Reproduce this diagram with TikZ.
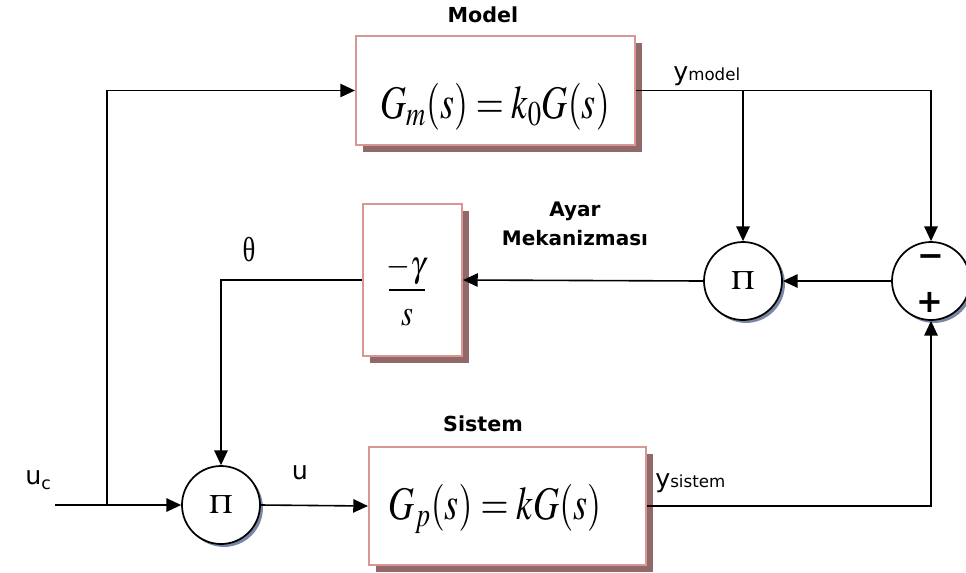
\documentclass[tikz,border=0pt]{standalone}
\usepackage{mathptmx}
\usepackage{fontspec}
\setsansfont{DejaVu Sans}
\newfontfamily\lserif{Liberation Serif}
\usetikzlibrary{arrows.meta,shadows}
\definecolor{boxedge}{RGB}{217,150,148}
\definecolor{boxshadow}{RGB}{145,105,105}
\definecolor{circshadow}{RGB}{120,135,165}
\begin{document}
\begin{tikzpicture}[x=0.75pt,y=-0.75pt,
  line/.style={line width=1.2pt},
  arr/.style={line width=1.2pt,-{Triangle[length=11pt,width=10pt]}},
  blk/.style={draw=boxedge,line width=1.6pt,fill=white,inner sep=0pt,
    general shadow={fill=boxshadow,shadow xshift=5.25pt,shadow yshift=-5.25pt}},
  mult/.style={circle,draw,line width=1.3pt,fill=white,inner sep=0pt,minimum size=58.5pt,
    general shadow={fill=circshadow,shadow xshift=2.2pt,shadow yshift=-2.2pt}},
  biglbl/.style={font=\sffamily\bfseries\fontsize{15.5}{17}\selectfont,inner sep=0pt},
  boldlbl/.style={font=\sffamily\bfseries\fontsize{15}{17}\selectfont,inner sep=0pt},
  sig/.style={font=\sffamily\fontsize{19}{20}\selectfont,inner sep=0pt},
  pisym/.style={font=\fontsize{20}{22}\selectfont},
  frac/.style={font=\fontsize{23}{24}\selectfont,inner sep=0pt},
  sgn/.style={font=\sffamily\bfseries\fontsize{24}{24}\selectfont,inner sep=0pt,anchor=base}
]
\useasboundingbox (0,0) rectangle (966,572);

% blocks
\node[blk,minimum width=209.25pt,minimum height=81.75pt] (model) at (495.5,90.5) {};
\node[font=\fontsize{27}{30}\selectfont,inner sep=0pt] (mtext) at (495,107) {\scalebox{1}[1.3]{$G_m(s)=k_0G(s)$}};
\node[blk,minimum width=74.25pt,minimum height=114pt] (integ) at (412.5,280) {};
\node[frac] (num) at (406,270) {\scalebox{1}[1.2]{$-\gamma$}};
\node[frac] (den) at (407,318) {\scalebox{1}[1.2]{$s$}};
\coordinate (barl) at (389,290);
\coordinate (barr) at (425,290);
\draw[line width=0.9pt] (barl) -- (barr);
\node[blk,minimum width=207.75pt,minimum height=88.5pt] (sys) at (507.5,506) {};
\node[font=\fontsize{27}{30}\selectfont,inner sep=0pt] (stext) at (495,509) {\scalebox{1}[1.3]{$G_p(s)=kG(s)$}};

% circles
\node[mult,pisym] (p1) at (743,281) {\scalebox{1.15}[1]{$\Pi$}};
\node[mult] (sum) at (931,281) {};
\node[sgn] (minus) at (931,266) {−};
\node[sgn] (plus) at (930,312) {+};
\node[mult,pisym] (p0) at (221,505) {\scalebox{1.15}[1]{$\Pi$}};

% coordinates
\coordinate (uc) at (55,505);
\coordinate (j) at (107,505);
\coordinate (b) at (p1 |- model.east);

% connectors
\draw[arr] (uc) -- (p0.west);
\draw[arr] (j) |- (model.west);
\draw[arr] (model.east) -| (sum.north);
\draw[arr] (b) -- (p1.north);
\draw[arr] (sum.west) -- (p1.east);
\draw[arr] (p1.west) -- (integ.east);
\draw[arr] (integ.west) -| (p0.north);
\draw[arr] (p0.east) -- (sys.west);
\draw[arr] (sys.east) -| (sum.south);

% labels
\node[biglbl] (lmodel) at (483,15) {Model};
\node[biglbl] (lsys) at (483,424) {Sistem};
\node[boldlbl] (layar) at (575,211) {Ayar};
\node[boldlbl] (lmek) at (575,238) {Mekanizması};
\node[font=\lserif\fontsize{20}{22}\selectfont,inner sep=0pt] (ltheta) at (249,250) {\scalebox{1}[1.3]{θ}};
\node[sig] (lu) at (300,473) {u};
\node[sig,anchor=base west] (luc) at (25,484) {u{\fontsize{13}{14}\selectfont\raisebox{-4pt}{c}}};
\node[sig,anchor=base west] (lym) at (673,80) {y{\fontsize{12.5}{14}\selectfont model}};
\node[sig,anchor=base west] (lys) at (655,487) {y{\fontsize{12.5}{14}\selectfont sistem}};
\end{tikzpicture}
\end{document}
